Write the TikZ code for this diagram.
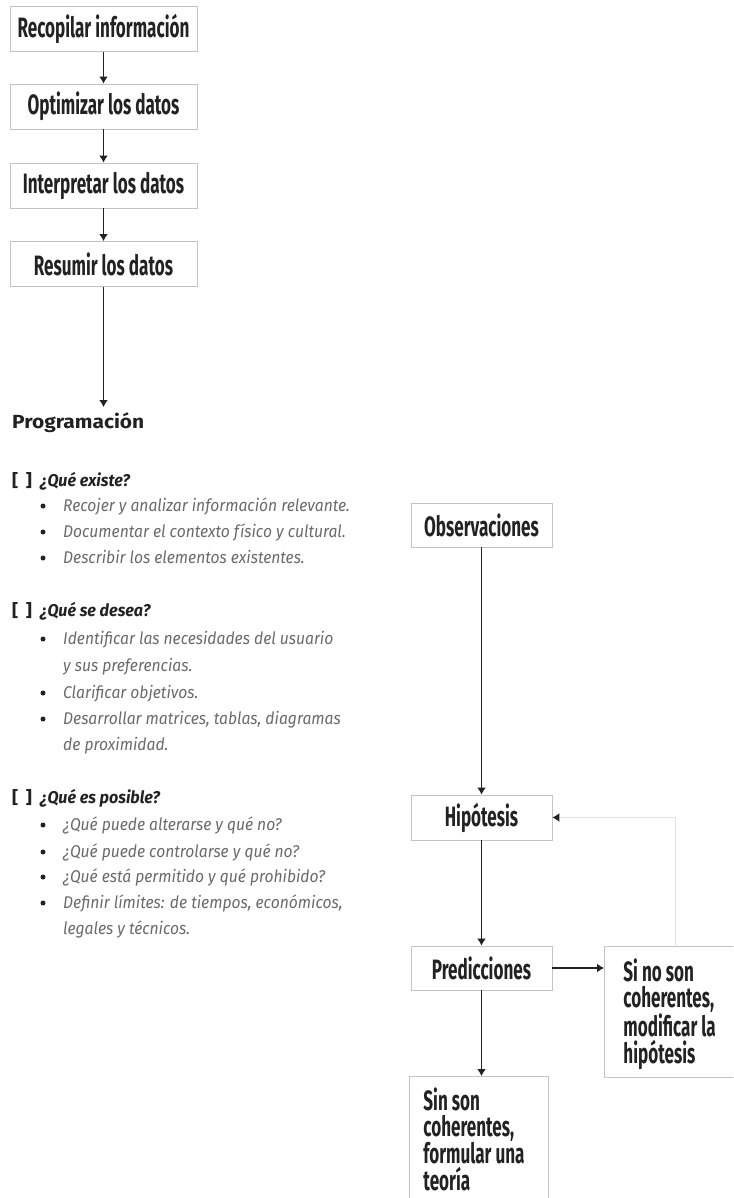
\documentclass[tikz,border=0pt]{standalone}
\usepackage{fontspec}
\setmainfont{Fira Sans}
\newfontfamily\boxfont[FakeStretch=0.61]{Fira Sans}
\newfontfamily\listfont[FakeStretch=0.92]{Fira Sans}
\newfontfamily\headfont[FakeStretch=0.95]{Fira Sans}
\newfontfamily\progfont[FakeStretch=1.1]{Fira Sans}
\usetikzlibrary{arrows.meta}
\definecolor{boxline}{HTML}{C4C4C4}
\definecolor{fbline}{HTML}{E2E2E2}
\definecolor{ink}{HTML}{222222}
\definecolor{itemgray}{HTML}{6A6A6A}
\begin{document}
\begin{tikzpicture}[x=1pt,y=-1pt,
  boxtext/.style={font=\boxfont\bfseries\fontsize{28}{26.7}\selectfont,text=ink},
  stepbox/.style={boxtext,draw=boxline,line width=0.9pt,minimum height=45pt,inner sep=0pt},
  leftbox/.style={stepbox,minimum width=187pt},
  rightbox/.style={stepbox,minimum width=141pt},
  conn/.style={draw=ink,line width=1.8pt,-{Latex[length=7pt,width=9pt]}},
  fb/.style={draw=fbline,line width=1pt,-{Latex[length=7pt,width=9pt,color=ink,fill=ink]}},
  head/.style={anchor=base west,inner sep=0pt,font=\headfont\bfseries\itshape\fontsize{17}{20}\selectfont,text=ink},
  brk/.style={anchor=base west,inner sep=0pt,font=\progfont\bfseries\fontsize{17}{20}\selectfont,text=ink},
  item/.style={anchor=base west,inner sep=0pt,font=\listfont\itshape\fontsize{17}{20}\selectfont,text=itemgray},
  dot/.style={circle,fill=ink,inner sep=0pt,minimum size=5pt}
]
\useasboundingbox (0,0) rectangle (733,1198);
\clip (0,0) rectangle (733,1198);

% left chain
\node[leftbox] (b1) at (103.5,29) {Recopilar información};
\node[leftbox] (b2) at (103.5,106.5) {Optimizar los datos};
\node[leftbox] (b3) at (103.5,185.5) {Interpretar los datos};
\node[leftbox] (b4) at (103.5,264) {Resumir los datos};
\coordinate (progtop) at (103.5,407);
\draw[conn] (b1) -- (b2);
\draw[conn] (b2) -- (b3);
\draw[conn] (b3) -- (b4);
\draw[conn] (b4) -- (progtop);

\node[anchor=base west,inner sep=0pt,font=\progfont\bfseries\fontsize{19}{22}\selectfont,text=ink] (prog) at (12,428) {Programación};

% section 1
\node[brk] (k1) at (12,486) {[\;\,]};
\node[head] (h1) at (40,486) {¿Qué existe?};
\node[item] (i11) at (63,511) {Recojer y analizar información relevante.};
\node[item] (i12) at (63,537) {Documentar el contexto físico y cultural.};
\node[item] (i13) at (63,563) {Describir los elementos existentes.};
\node[dot] (d11) at (43,506) {};
\node[dot] (d12) at (43,532) {};
\node[dot] (d13) at (43,558) {};

% section 2
\node[brk] (k2) at (12,616) {[\;\,]};
\node[head] (h2) at (40,616) {¿Qué se desea?};
\node[item] (i21) at (63,644) {Identificar las necesidades del usuario};
\node[item] (i22) at (63,671) {y sus preferencias.};
\node[item] (i23) at (63,698) {Clarificar objetivos.};
\node[item] (i24) at (63,724) {Desarrollar matrices, tablas, diagramas};
\node[item] (i25) at (63,750) {de proximidad.};
\node[dot] (d21) at (43,639) {};
\node[dot] (d23) at (43,693) {};
\node[dot] (d24) at (43,719) {};

% section 3
\node[brk] (k3) at (12,803) {[\;\,]};
\node[head] (h3) at (40,803) {¿Qué es posible?};
\node[item] (i31) at (63,830) {¿Qué puede alterarse y qué no?};
\node[item] (i32) at (63,857) {¿Qué puede controlarse y qué no?};
\node[item] (i33) at (63,882) {¿Qué está permitido y qué prohibido?};
\node[item] (i34) at (63,908) {Definir límites: de tiempos, económicos,};
\node[item] (i35) at (63,934) {legales y técnicos.};
\node[dot] (d31) at (43,825) {};
\node[dot] (d32) at (43,852) {};
\node[dot] (d33) at (43,877) {};
\node[dot] (d34) at (43,903) {};

% right chain
\node[rightbox,minimum height=44pt] (obs) at (481.5,525) {Observaciones};
\node[rightbox] (hip) at (481.5,817.5) {Hipótesis};
\node[rightbox,minimum height=44pt] (pred) at (481.5,968) {Predicciones};
\node[boxtext,draw=boxline,line width=0.9pt,anchor=north west,inner xsep=19pt,inner ysep=12pt] (sino) at (604,946)
      {\begin{minipage}[t][107pt][t]{120pt}\raggedright Si no son\\coherentes,\\modificar la\\hipótesis\end{minipage}};
\node[boxtext,draw=boxline,line width=0.9pt,anchor=north west,inner xsep=14pt,inner ysep=11pt] (sinson) at (409,1076)
      {\begin{minipage}[t][150pt][t]{111pt}\raggedright Sin son\\coherentes,\\formular una\\teoría\end{minipage}};
\coordinate (fbc) at (675,946);

\draw[conn] (obs) -- (hip);
\draw[conn] (hip) -- (pred);
\draw[conn] (pred.east) -- (sino.west |- pred.east);
\draw[conn] (pred) -- (sinson.north -| pred);
\draw[fb] (fbc) |- (hip.east);
\end{tikzpicture}
\end{document}
